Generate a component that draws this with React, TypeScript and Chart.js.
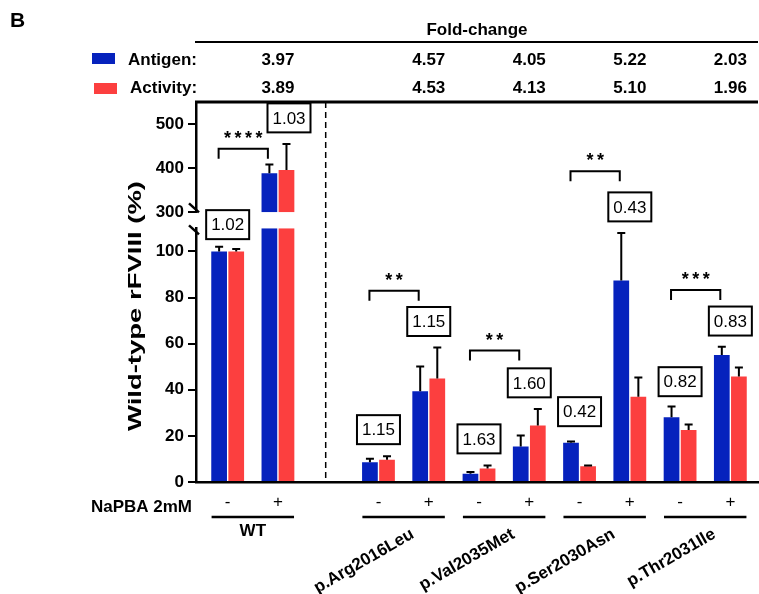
import React, { useEffect, useRef } from 'react';
import { Chart, registerables } from 'chart.js';

Chart.register(...registerables);

// ---------- data ----------
const SLOTS = [0, 1, 3, 4, 5, 6, 7, 8, 9, 10];
const SIGNS = ['-', '+', '-', '+', '-', '+', '-', '+', '-', '+'];
const GROUPS = ['WT', 'p.Arg2016Leu', 'p.Val2035Met', 'p.Ser2030Asn', 'p.Thr2031Ile'];
const ANTIGEN = [100, 388.6, 8.6, 39.3, 3.6, 15.4, 17.0, 87.4, 28.1, 55.1];
const ANTIGEN_ERR = [2, 20, 1.5, 10.8, 0.7, 4.8, 0.6, 20.6, 4.6, 3.5];
const ACTIVITY = [100, 396, 9.7, 44.9, 5.8, 24.5, 6.8, 37.0, 22.6, 45.8];
const ACTIVITY_ERR = [1, 59, 1.5, 13.4, 1.4, 7.2, 0.4, 8.3, 2.3, 3.9];
const FOLD_ANTIGEN = ['3.97', '4.57', '4.05', '5.22', '2.03'];
const FOLD_ACTIVITY = ['3.89', '4.53', '4.13', '5.10', '1.96'];
const RATIOS = ['1.02', '1.03', '1.15', '1.15', '1.63', '1.60', '0.42', '0.43', '0.82', '0.83'];
const SIGNIF = ['****', '**', '**', '**', '***'];
const LOWER_TICKS = [0, 20, 40, 60, 80, 100];
const UPPER_TICKS = [300, 400, 500];
const LOW_MAX = 110;
const UP_MIN = 300;
const UP_MAX = 550;

// ---------- annotation layout (positions in axis units) ----------
const RATIO_DX = [0, 0.22, 0, 0, 0, 0, 0, 0, 0, 0];
const RATIO_Y = [111.6, 157.9, 22.7, 69.6, 18.7, 43.0, 30.5, 119.3, 43.5, 69.8];
const BRACKET_Y = [144.5, 82.9, 57.0, 134.7, 83.3];

const BLUE = '#0622bd';
const RED = '#fc3f3f';
const FONT = '"Liberation Sans", Arial, Helvetica, sans-serif';

function App() {
  const ref = useRef<HTMLCanvasElement>(null);

  useEffect(() => {
    const canvas = ref.current;
    if (!canvas) return;

    const lowA = ANTIGEN.map((v, i) => ({ x: SLOTS[i], y: Math.min(v, LOW_MAX) }));
    const lowB = ACTIVITY.map((v, i) => ({ x: SLOTS[i], y: Math.min(v, LOW_MAX) }));
    const upA = ANTIGEN.map((v, i) => ({ x: SLOTS[i], y: v > UP_MIN ? [UP_MIN, v] : null }));
    const upB = ACTIVITY.map((v, i) => ({ x: SLOTS[i], y: v > UP_MIN ? [UP_MIN, v] : null }));

    const series = [
      { vals: ANTIGEN, errs: ANTIGEN_ERR, part: 'low', axis: 'yLow' },
      { vals: ACTIVITY, errs: ACTIVITY_ERR, part: 'low', axis: 'yLow' },
      { vals: ANTIGEN, errs: ANTIGEN_ERR, part: 'up', axis: 'yUp' },
      { vals: ACTIVITY, errs: ACTIVITY_ERR, part: 'up', axis: 'yUp' },
    ];

    const tickFont = { family: FONT, size: 17, weight: 'bold' as const };

    const yCommon = (weight: number, min: number, max: number, ticks: number[]) => ({
      type: 'linear' as const,
      position: 'left' as const,
      stack: 'ystack',
      stackWeight: weight,
      stacked: false,
      min,
      max,
      afterBuildTicks: (s: any) => {
        s.ticks = ticks.map((v) => ({ value: v }));
      },
      afterFit: (s: any) => {
        s.width = 196;
      },
      ticks: { font: tickFont, color: '#000', padding: 4, display: ticks.length > 0 },
      grid: {
        display: ticks.length > 0,
        drawOnChartArea: false,
        drawTicks: true,
        tickLength: 8,
        color: '#000',
        lineWidth: 2,
      },
      border: { display: ticks.length > 0, color: '#000', width: 2.5 },
    });

    const decor = {
      id: 'decor',
      afterDatasetsDraw(chart: any) {
        const ctx = chart.ctx;
        ctx.save();
        ctx.strokeStyle = '#000';
        ctx.lineWidth = 2;
        series.forEach((s, di) => {
          const meta = chart.getDatasetMeta(di);
          const yScale = chart.scales[s.axis];
          meta.data.forEach((el: any, i: number) => {
            const v = s.vals[i];
            if (s.part === 'low' && v > LOW_MAX) return;
            if (s.part === 'up' && v <= UP_MIN) return;
            if (!el || isNaN(el.y)) return;
            const top = yScale.getPixelForValue(v + s.errs[i]);
            ctx.beginPath();
            ctx.moveTo(el.x, el.y);
            ctx.lineTo(el.x, top);
            ctx.moveTo(el.x - 4, top);
            ctx.lineTo(el.x + 4, top);
            ctx.stroke();
          });
        });
        ctx.restore();
      },
      afterDraw(chart: any) {
        const ctx = chart.ctx;
        const xs = chart.scales.x;
        const yLow = chart.scales.yLow;
        const yUp = chart.scales.yUp;
        const area = chart.chartArea;
        const px = (v: number) => xs.getPixelForValue(v);
        ctx.save();
        ctx.fillStyle = '#000';
        ctx.strokeStyle = '#000';

        // panel letter
        ctx.font = `bold 21px ${FONT}`;
        ctx.textAlign = 'left';
        ctx.textBaseline = 'middle';
        ctx.fillText('B', 10, 21);

        // fold-change table
        ctx.font = `bold 17px ${FONT}`;
        ctx.textAlign = 'center';
        ctx.fillText('Fold-change', 477, 30);
        ctx.lineWidth = 2;
        ctx.beginPath();
        ctx.moveTo(195, 42);
        ctx.lineTo(area.right, 42);
        ctx.stroke();
        ctx.lineWidth = 3;
        ctx.beginPath();
        ctx.moveTo(195, area.top);
        ctx.lineTo(area.right, area.top);
        ctx.stroke();

        // legend
        ctx.fillStyle = BLUE;
        ctx.fillRect(92, 53, 23, 11);
        ctx.fillStyle = RED;
        ctx.fillRect(94, 83, 23, 11);
        ctx.fillStyle = '#000';
        ctx.textAlign = 'left';
        ctx.fillText('Antigen:', 128, 60);
        ctx.fillText('Activity:', 130, 88);
        ctx.textAlign = 'center';
        const plusSlots = SLOTS.filter((_, i) => SIGNS[i] === '+');
        plusSlots.forEach((s, g) => {
          ctx.fillText(FOLD_ANTIGEN[g], px(s), 60);
          ctx.fillText(FOLD_ACTIVITY[g], px(s), 88);
        });

        // dashed separator
        ctx.lineWidth = 1.5;
        ctx.setLineDash([6, 4]);
        ctx.beginPath();
        ctx.moveTo(px(1.95), area.top);
        ctx.lineTo(px(1.95), area.bottom);
        ctx.stroke();
        ctx.setLineDash([]);

        // axis break marks
        ctx.lineWidth = 2.5;
        [yUp.bottom - 4, yLow.top + 2].forEach((y) => {
          ctx.beginPath();
          ctx.moveTo(area.left - 7, y - 5);
          ctx.lineTo(area.left + 3, y + 4);
          ctx.stroke();
        });

        // y title
        ctx.save();
        ctx.translate(136, 306);
        ctx.rotate(-Math.PI / 2);
        ctx.font = `bold 18px ${FONT}`;
        ctx.textAlign = 'center';
        const title = 'Wild-type rFVIII (%)';
        const tw = ctx.measureText(title).width;
        ctx.scale(250 / tw, 1);
        ctx.fillText(title, 0, 0);
        ctx.restore();

        // ratio boxes
        ctx.font = `17px ${FONT}`;
        ctx.textAlign = 'center';
        ctx.textBaseline = 'middle';
        RATIOS.forEach((r, i) => {
          const cx = px(SLOTS[i] + RATIO_DX[i]);
          const cy = yLow.getPixelForValue(RATIO_Y[i]);
          const w = 43, h = 29;
          ctx.fillStyle = '#fff';
          ctx.fillRect(cx - w / 2, cy - h / 2, w, h);
          ctx.lineWidth = 2;
          ctx.strokeRect(cx - w / 2, cy - h / 2, w, h);
          ctx.fillStyle = '#000';
          ctx.fillText(r, cx, cy + 1);
        });

        // significance brackets
        GROUPS.forEach((_, g) => {
          const l = px(SLOTS[g * 2] - 0.18);
          const r = px(SLOTS[g * 2 + 1] - 0.2);
          const t = yLow.getPixelForValue(BRACKET_Y[g]);
          ctx.lineWidth = 2;
          ctx.beginPath();
          ctx.moveTo(l, t + 10);
          ctx.lineTo(l, t);
          ctx.lineTo(r, t);
          ctx.lineTo(r, t + 10);
          ctx.stroke();
          const stars = SIGNIF[g];
          ctx.font = `bold 18px ${FONT}`;
          ctx.textBaseline = 'alphabetic';
          const mid = (l + r) / 2;
          const n = stars.length;
          for (let k = 0; k < n; k++) {
            ctx.fillText('*', mid + (k - (n - 1) / 2) * 10.5, t - 5);
          }
        });

        // x labels
        ctx.textBaseline = 'middle';
        ctx.font = `bold 17px ${FONT}`;
        ctx.textAlign = 'right';
        ctx.fillText('NaPBA 2mM', 192, 507);
        ctx.font = `17px ${FONT}`;
        ctx.textAlign = 'center';
        SLOTS.forEach((s, i) => ctx.fillText(SIGNS[i], px(s), 502));
        ctx.lineWidth = 2.5;
        GROUPS.forEach((name, g) => {
          const a = SLOTS[g * 2];
          const b = SLOTS[g * 2 + 1];
          ctx.beginPath();
          ctx.moveTo(px(a - 0.32), 517);
          ctx.lineTo(px(b + 0.32), 517);
          ctx.stroke();
          ctx.font = `bold 17px ${FONT}`;
          if (g === 0) {
            ctx.textAlign = 'center';
            ctx.fillText(name, px((a + b) / 2), 531);
          } else {
            ctx.save();
            ctx.translate(px((a + b) / 2 + 0.18), 533);
            ctx.rotate(-Math.PI / 6);
            ctx.textAlign = 'right';
            ctx.fillText(name, 0, 0);
            ctx.restore();
          }
        });

        ctx.restore();
      },
    };

    const chart = new Chart(canvas, {
      type: 'bar',
      data: {
        datasets: [
          { label: 'Antigen', data: lowA as any, yAxisID: 'yLow', stack: 'antigen', backgroundColor: BLUE },
          { label: 'Activity', data: lowB as any, yAxisID: 'yLow', stack: 'activity', backgroundColor: RED },
          { label: 'Antigen', data: upA as any, yAxisID: 'yUp', stack: 'antigen', backgroundColor: BLUE },
          { label: 'Activity', data: upB as any, yAxisID: 'yUp', stack: 'activity', backgroundColor: RED },
        ],
      },
      options: {
        responsive: false,
        animation: false,
        devicePixelRatio: 1,
        categoryPercentage: 0.68,
        barPercentage: 0.92,
        layout: { padding: { top: 102, right: 1, bottom: 112, left: 0 } },
        plugins: { legend: { display: false }, tooltip: { enabled: false }, title: { display: false } },
        scales: {
          x: {
            type: 'linear',
            min: -0.63,
            max: 10.55,
            offset: false,
            ticks: { display: false },
            grid: { display: false },
            border: { color: '#000', width: 2.5 },
            afterFit: (s: any) => {
              s.height = 0;
            },
          },
          yLow: yCommon(254, 0, LOW_MAX, LOWER_TICKS),
          yGap: yCommon(16, 0, 1, []),
          yUp: yCommon(110.5, UP_MIN, UP_MAX, UPPER_TICKS),
        } as any,
      },
      plugins: [decor],
    } as any);

    return () => chart.destroy();
  }, []);

  return (
    <div style={{ position: 'fixed', left: 0, top: 0, width: 759, height: 594, background: '#fff' }}>
      <canvas ref={ref} width={759} height={594} style={{ display: 'block', width: 759, height: 594 }} />
    </div>
  );
}

export default App;
